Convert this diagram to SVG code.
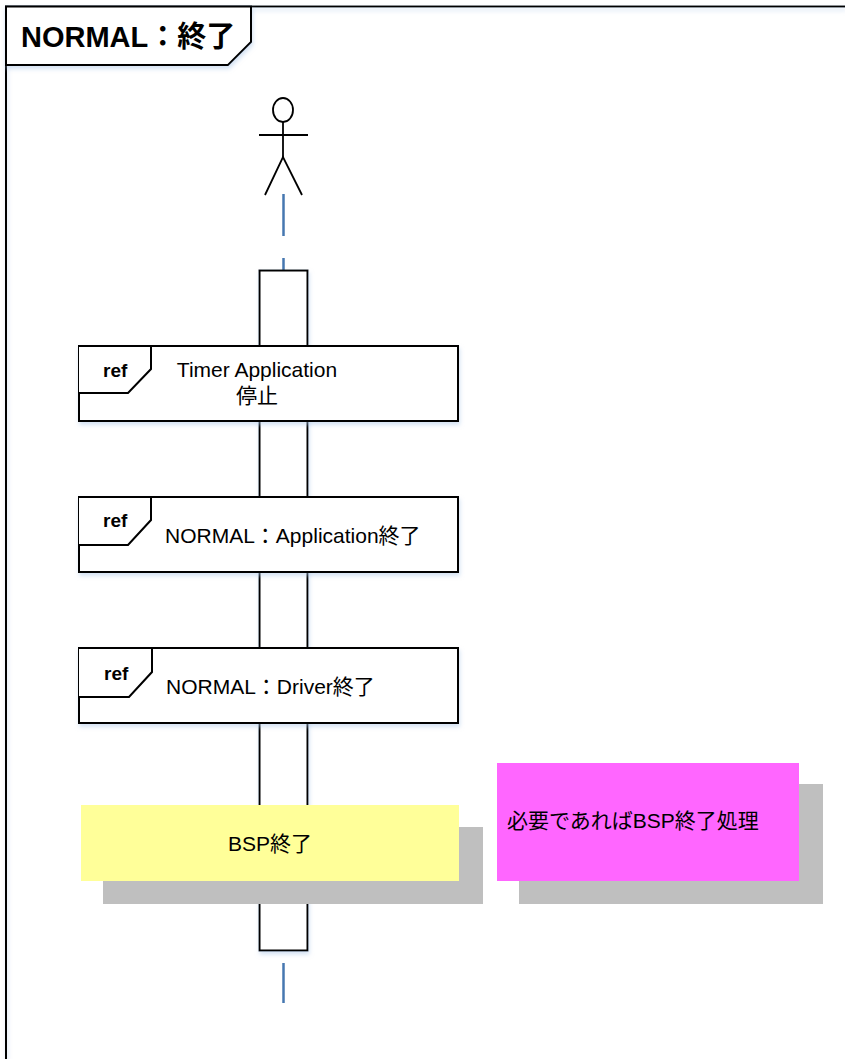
<svg xmlns="http://www.w3.org/2000/svg" width="845" height="1059" viewBox="0 0 845 1059">
<defs>
<filter id="glow" x="-10%" y="-10%" width="130%" height="140%">
<feDropShadow dx="1" dy="3" stdDeviation="2" flood-color="#a9c6e8" flood-opacity="0.5"/>
</filter>
</defs>
<style>
.ln{fill:none;stroke:#000;stroke-width:2}
.box{fill:#fff;stroke:#000;stroke-width:2}
.tab{fill:#fff;stroke:#000;stroke-width:2}
.life{stroke:#4677b0;stroke-width:2.5;fill:none}
.t{font-family:"Liberation Sans","Noto Sans CJK JP",sans-serif;font-size:21px;fill:#000}
.ref{font-family:"Liberation Sans","Noto Sans CJK JP",sans-serif;font-size:19px;font-weight:bold;fill:#000}
.title{font-family:"Liberation Sans","Noto Sans CJK JP",sans-serif;font-size:29px;font-weight:bold;fill:#000}
.shadow{fill:#bfbfbf}
</style>
<g id="frame">
<path class="ln" d="M6,1059 V6.5 H845" filter="url(#glow)"/>
<path class="tab" d="M6,6.5 H251 V42 L228,65 H6 Z" filter="url(#glow)"/>
<text class="title" x="21" y="47">NORMAL：終了</text>
</g>
<g id="actor">
<ellipse cx="283" cy="110" rx="10" ry="12" fill="#fff" stroke="#000" stroke-width="1.8"/>
<line x1="259" y1="135" x2="308" y2="135" stroke="#000" stroke-width="1.8"/>
<line x1="283" y1="122" x2="283" y2="157" stroke="#000" stroke-width="1.8"/>
<polyline points="265,195 283,157 302,195" fill="none" stroke="#000" stroke-width="1.8"/>
</g>
<g id="connectors">
<line class="life" x1="283.5" y1="194" x2="283.5" y2="236"/>
<line class="life" x1="283.5" y1="258" x2="283.5" y2="270"/>
<line class="life" x1="283.5" y1="963" x2="283.5" y2="1003"/>
</g>
<g id="activation">
<rect class="box" x="259.5" y="270.5" width="48" height="680" filter="url(#glow)"/>
</g>
<g id="ref1">
<rect class="box" x="79" y="346" width="379" height="75" filter="url(#glow)"/>
<path class="tab" d="M79,346 H151 V369 L128,393 H79"/>
<text class="ref" x="103" y="377">ref</text>
<text class="t" x="257" y="377" text-anchor="middle">Timer Application</text>
<text class="t" x="257" y="403" text-anchor="middle">停止</text>
</g>
<g id="ref2">
<rect class="box" x="79" y="497" width="379" height="75" filter="url(#glow)"/>
<path class="tab" d="M79,497 H151 V520 L128,545 H79"/>
<text class="ref" x="103" y="527">ref</text>
<text class="t" x="165" y="543">NORMAL：Application終了</text>
</g>
<g id="ref3">
<rect class="box" x="79" y="648" width="379" height="75" filter="url(#glow)"/>
<path class="tab" d="M79,648 H152 V672 L129,697 H79"/>
<text class="ref" x="104" y="680">ref</text>
<text class="t" x="166" y="694">NORMAL：Driver終了</text>
</g>
<g id="note-bsp">
<rect class="shadow" x="103" y="827" width="380" height="77"/>
<rect x="81" y="805" width="378" height="76" fill="#ffff99"/>
<text class="t" x="270" y="851" text-anchor="middle">BSP終了</text>
</g>
<g id="note-optional">
<rect class="shadow" x="519" y="784" width="304" height="120"/>
<rect x="497" y="763" width="302" height="118" fill="#ff66ff"/>
<text class="t" x="507" y="828">必要であればBSP終了処理</text>
</g>
</svg>
